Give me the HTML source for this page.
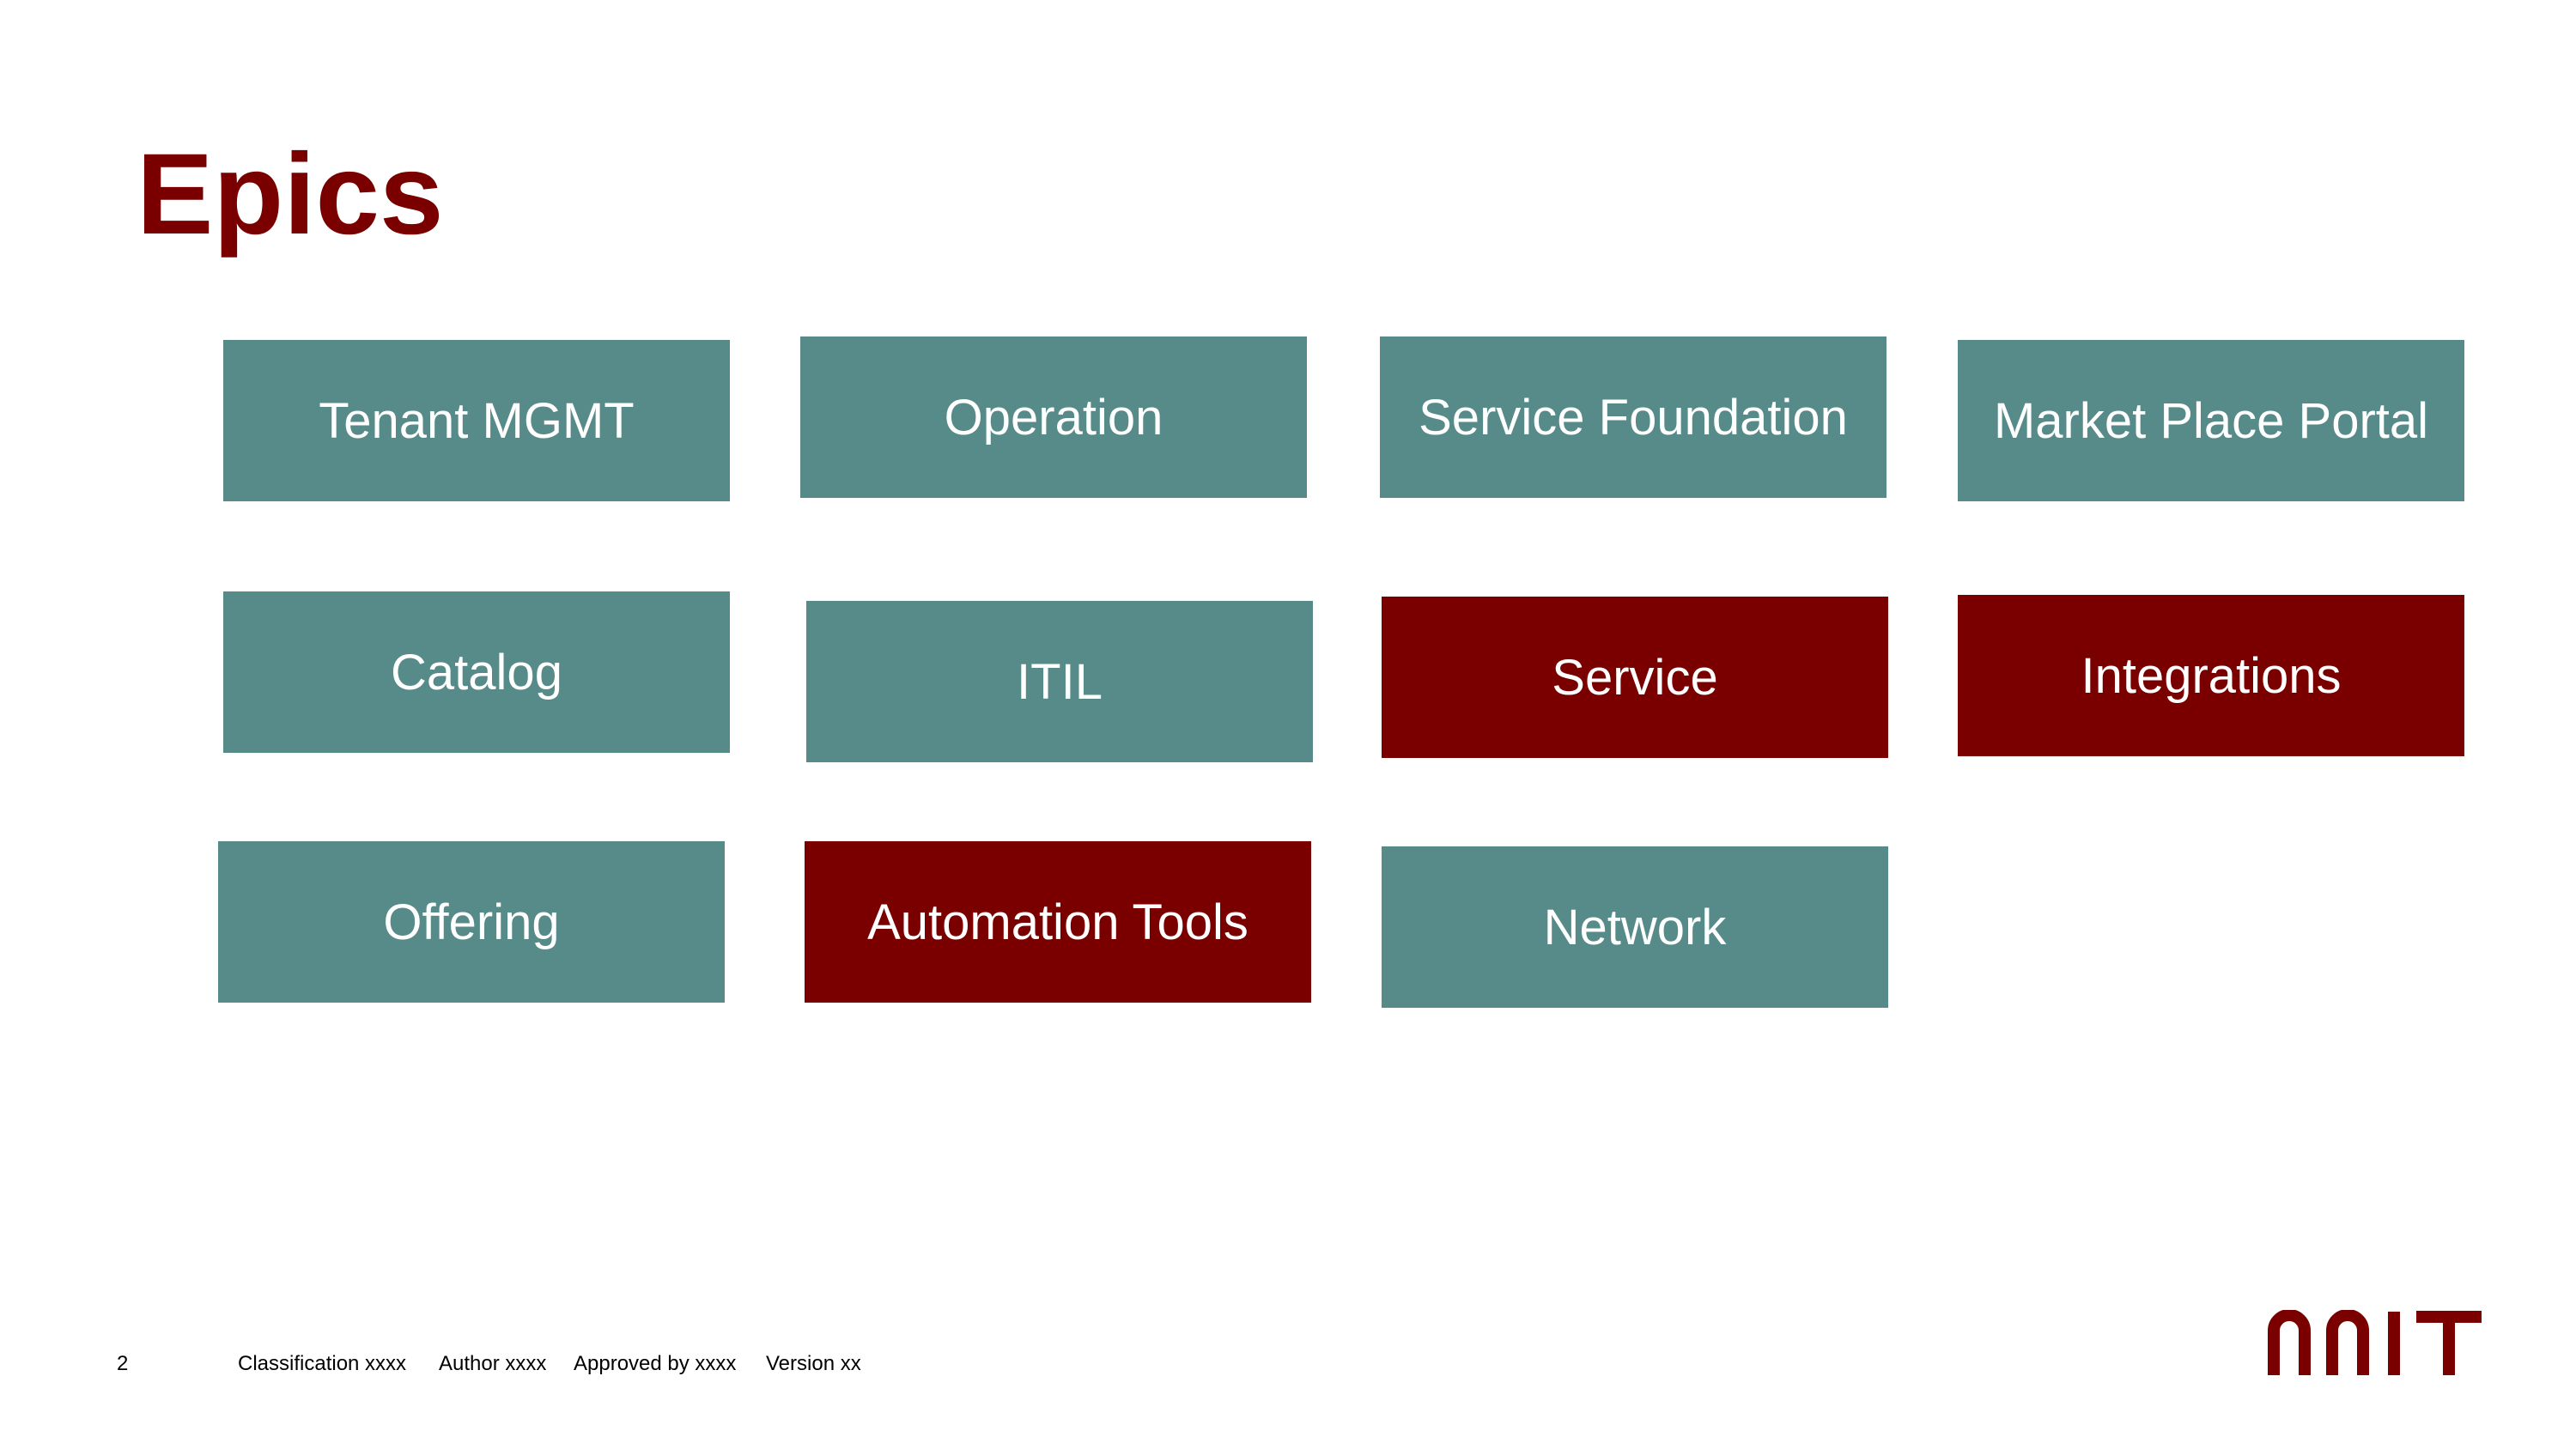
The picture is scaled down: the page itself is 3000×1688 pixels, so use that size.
<!DOCTYPE html>
<html><head><style>
body{margin:0;width:3000px;height:1688px;background:#fff;position:relative;overflow:hidden;font-family:"Liberation Sans",sans-serif}
.b{position:absolute;width:590px;height:188px;background:#568b89;color:#fff;font-size:58px;display:flex;align-items:center;justify-content:center;white-space:nowrap}
.r{background:#7a0000}
.f{position:absolute;top:1575px;font-size:24px;color:#000;white-space:nowrap}
</style></head><body>
<div style="position:absolute;left:159px;top:160px;font-size:134px;font-weight:bold;color:#7a0000;line-height:1">Epics</div>
<div class="b" style="left:260px;top:396px">Tenant MGMT</div>
<div class="b" style="left:932px;top:392px">Operation</div>
<div class="b" style="left:1607px;top:392px">Service Foundation</div>
<div class="b" style="left:2280px;top:396px">Market Place Portal</div>
<div class="b" style="left:260px;top:689px">Catalog</div>
<div class="b" style="left:939px;top:700px">ITIL</div>
<div class="b r" style="left:1609px;top:695px">Service</div>
<div class="b r" style="left:2280px;top:693px">Integrations</div>
<div class="b" style="left:254px;top:980px">Offering</div>
<div class="b r" style="left:937px;top:980px">Automation Tools</div>
<div class="b" style="left:1609px;top:986px">Network</div>
<div class="f" style="left:136px">2</div>
<div class="f" style="left:277px">Classification xxxx</div>
<div class="f" style="left:511px">Author xxxx</div>
<div class="f" style="left:668px">Approved by xxxx</div>
<div class="f" style="left:892px">Version xx</div>
<svg style="position:absolute;left:2640px;top:1526px" width="250" height="76" viewBox="0 0 250 76">
<g fill="none" stroke="#7a0000" stroke-width="14">
<path d="M8 76 V24 A18 18 0 0 1 44 24 V76"/>
<path d="M76 76 V24 A18 18 0 0 1 112 24 V76"/>
<path d="M148 2 V76"/>
<path d="M174 8 H250 M212 8 V76"/>
</g></svg>
</body></html>
